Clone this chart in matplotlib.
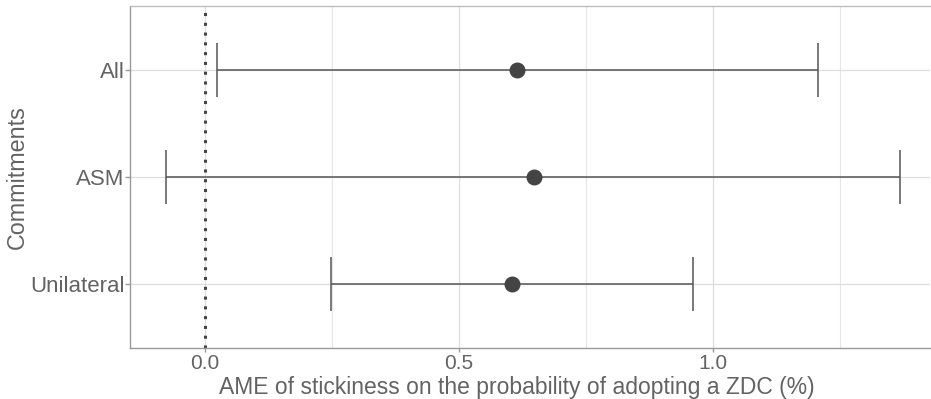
import numpy as np
import matplotlib.pyplot as plt

plt.rcParams["font.family"] = ["Liberation Sans", "DejaVu Sans"]

# data
commitments = ["Unilateral", "ASM", "All"]
ame = [0.604, 0.648, 0.614]
ci_low = [0.248, -0.077, 0.024]
ci_high = [0.961, 1.368, 1.207]

fig = plt.figure(figsize=(9.31, 3.99), dpi=100)
ax = fig.add_axes([130 / 931, 51 / 399, 800 / 931, 342 / 399])

ypos = np.arange(1, len(commitments) + 1)
txt = "#636363"
line = "#555555"

# grid (major + minor on x)
ax.set_xlim(-0.148, 1.427)
ax.set_ylim(0.4, 3.6)
ax.set_xticks([0.0, 0.5, 1.0])
ax.set_xticks([0.25, 0.75, 1.25], minor=True)
ax.set_xticklabels(["0.0", "0.5", "1.0"])
ax.set_yticks(ypos)
ax.set_yticklabels(commitments)
ax.grid(which="major", color="#dedede", linewidth=0.9)
ax.grid(which="minor", axis="x", color="#e6e6e6", linewidth=0.8)
ax.set_axisbelow(True)

ax.axvline(0, color="#444444", linestyle=(0, (1, 2.2)), linewidth=2.2, zorder=2)

ax.errorbar(ame, ypos, xerr=[np.array(ame) - np.array(ci_low), np.array(ci_high) - np.array(ame)],
            fmt="none", ecolor=line, elinewidth=1.1, capsize=19.5, capthick=1.1, zorder=3)
ax.scatter(ame, ypos, s=110, color="#444444", zorder=4)

for s in ax.spines.values():
    s.set_color("#9a9a9a")
    s.set_linewidth(1.0)
ax.spines["top"].set_color("#bdbdbd")
ax.spines["right"].set_visible(False)

ax.tick_params(axis="y", labelsize=16, colors="#9a9a9a", labelcolor=txt, length=3.5, width=1, pad=0.5)
ax.tick_params(axis="x", labelsize=15, colors="#9a9a9a", labelcolor=txt, length=3, width=1, pad=1.5)
ax.tick_params(which="minor", length=0)

ax.set_xlabel("AME of stickiness on the probability of adopting a ZDC (%)", fontsize=16.5, color=txt)
ax.xaxis.set_label_coords(0.484, -0.083)
ax.set_ylabel("Commitments", fontsize=16.8, color=txt)
ax.yaxis.set_label_coords(-0.127, 0.5)

fig.savefig("out.png", dpi=100)
plt.close(fig)
